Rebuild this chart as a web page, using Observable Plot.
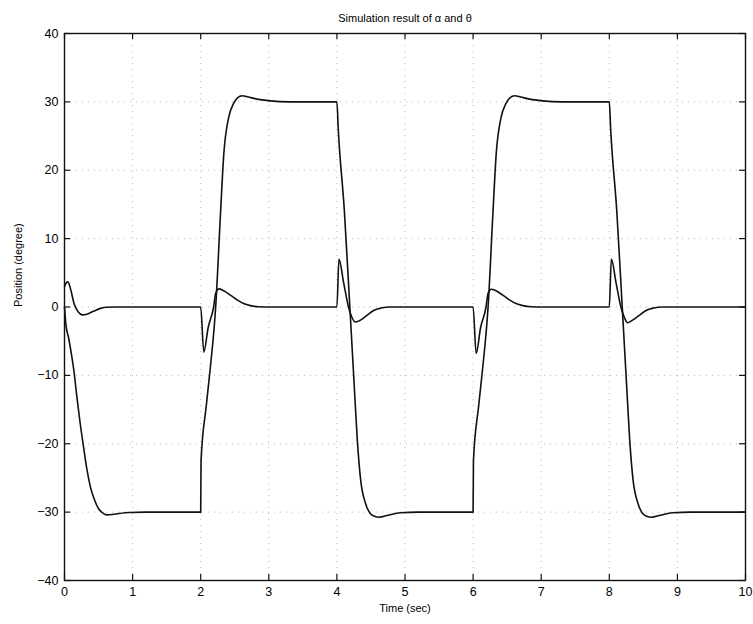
<!DOCTYPE html>
<html>
<head>
<meta charset="utf-8">
<script src="https://cdn.jsdelivr.net/npm/d3@7"></script>
<script src="https://cdn.jsdelivr.net/npm/@observablehq/plot@0.6"></script>
<style>
  html, body { margin: 0; padding: 0; background: #fff; }
  svg { display: block; }
</style>
</head>
<body>
<div id="chart"></div>
<script>
const titleText = "Simulation result of α and θ";
const xLabel = "Time (sec)";
const yLabel = "Position (degree)";
const xTicks = [0, 1, 2, 3, 4, 5, 6, 7, 8, 9, 10];
const yTicks = [-40, -30, -20, -10, 0, 10, 20, 30, 40];

// alpha (large response)
const alphaT = [
  0, 0.02, 0.06, 0.1, 0.14, 0.18, 0.23, 0.28, 0.33, 0.38, 0.44, 0.5, 0.56, 0.62, 0.7, 0.8, 0.95, 1.2, 2.0,
  2.005, 2.08, 2.14, 2.22, 2.29, 2.34, 2.41, 2.48, 2.54, 2.61, 2.7, 2.83, 3.02, 3.3, 4.0,
  4.02, 4.11, 4.19, 4.25, 4.30, 4.35, 4.42, 4.49, 4.55, 4.62, 4.75, 4.93, 5.2, 6.0,
  6.005, 6.08, 6.14, 6.22, 6.29, 6.34, 6.41, 6.48, 6.54, 6.61, 6.7, 6.83, 7.02, 7.3, 8.0,
  8.02, 8.11, 8.19, 8.25, 8.30, 8.35, 8.42, 8.49, 8.55, 8.62, 8.75, 8.93, 9.2, 10.0
];
const alphaV = [
  0, -2.5, -4.5, -6.8, -9.5, -13, -17, -20.5, -23.8, -26.3, -28.2, -29.5, -30.1, -30.4, -30.35, -30.2, -30.05, -30, -30,
  -22.5, -14.6, -9, 0, 13.5, 22.5, 27.7, 29.7, 30.6, 30.9, 30.7, 30.4, 30.15, 30, 30,
  26, 14, 0, -10.7, -19.5, -25.4, -28.7, -30.2, -30.6, -30.75, -30.45, -30.1, -30, -30,
  -22.5, -14.6, -9, 0, 13.5, 22.5, 27.7, 29.7, 30.6, 30.9, 30.7, 30.4, 30.15, 30, 30,
  26, 14, 0, -10.7, -19.5, -25.4, -28.7, -30.2, -30.6, -30.75, -30.45, -30.1, -30, -30
];

// theta (small response)
const thetaT = [
  0, 0.03, 0.05, 0.07, 0.1, 0.14, 0.2, 0.26, 0.33, 0.43, 0.53, 0.62, 0.75, 2.0,
  2.045, 2.11, 2.19, 2.22, 2.27, 2.33, 2.44, 2.54, 2.63, 2.73, 2.85, 3.0, 4.0,
  4.03, 4.1, 4.17, 4.22, 4.27, 4.33, 4.43, 4.54, 4.65, 4.78, 6.0,
  6.045, 6.11, 6.19, 6.22, 6.27, 6.33, 6.44, 6.54, 6.63, 6.73, 6.85, 7.0, 8.0,
  8.03, 8.1, 8.17, 8.22, 8.27, 8.33, 8.43, 8.54, 8.65, 8.78, 10.0
];
const thetaV = [
  3.0, 3.6, 3.7, 3.3, 2.2, 0.5, -0.7, -1.15, -1.05, -0.6, -0.2, -0.03, 0, 0,
  -6.6, -3, 0, 2.0, 2.65, 2.4, 1.7, 1.0, 0.5, 0.2, 0.03, 0, 0,
  7.0, 3.5, 0, -1.5, -2.2, -2.0, -1.3, -0.5, -0.15, 0, 0,
  -6.8, -3, 0, 2.0, 2.6, 2.4, 1.7, 1.0, 0.5, 0.2, 0.03, 0, 0,
  7.0, 3.5, 0, -1.5, -2.3, -2.0, -1.3, -0.5, -0.15, 0, 0
];

const alpha = alphaT.map((t, i) => ({t, v: alphaV[i]}));
const theta = thetaT.map((t, i) => ({t, v: thetaV[i]}));

const W = 753, H = 624;
const mL = 64, mR = 8, mT = 33, mB = 44;
const innerW = W - mL - mR, innerH = H - mT - mB;
const font = "'Liberation Sans', Arial, Helvetica, sans-serif";

const chart = Plot.plot({
  width: W,
  height: H,
  marginLeft: mL,
  marginRight: mR,
  marginTop: mT,
  marginBottom: mB,
  style: {fontFamily: font, fontSize: "12px", color: "#000", background: "#fff"},
  x: {domain: [0, 10]},
  y: {domain: [-40, 40]},
  marks: [
    Plot.gridX(xTicks, {stroke: "#aaa", strokeOpacity: 0.8, strokeDasharray: "1,5"}),
    Plot.gridY(yTicks, {stroke: "#aaa", strokeOpacity: 0.8, strokeDasharray: "1,5"}),
    Plot.line(alpha, {x: "t", y: "v", stroke: "#111", strokeWidth: 1.6, curve: "monotone-x"}),
    Plot.line(theta, {x: "t", y: "v", stroke: "#111", strokeWidth: 1.6, curve: "monotone-x"}),
    Plot.frame({stroke: "#111", strokeWidth: 1.4}),
    Plot.tickX(xTicks, {x: d => d, insetTop: innerH - 6, stroke: "#111", strokeWidth: 1.2}),
    Plot.tickX(xTicks, {x: d => d, insetBottom: innerH - 6, stroke: "#111", strokeWidth: 1.2}),
    Plot.tickY(yTicks, {y: d => d, insetRight: innerW - 6, stroke: "#111", strokeWidth: 1.2}),
    Plot.tickY(yTicks, {y: d => d, insetLeft: innerW - 6, stroke: "#111", strokeWidth: 1.2}),
    Plot.axisX({ticks: xTicks, tickSize: 0, tickPadding: 7, label: null, fontSize: 12.5, fill: "#000"}),
    Plot.axisY({ticks: yTicks, tickSize: 0, tickPadding: 6, label: null, fontSize: 12.5, fill: "#000"}),
    Plot.text([titleText], {frameAnchor: "top", dy: -19, text: d => d, fontSize: 11, fill: "#000"}),
    Plot.text([xLabel], {frameAnchor: "bottom", dy: 31, text: d => d, fontSize: 11, fill: "#000"}),
    Plot.text([yLabel], {frameAnchor: "left", dx: -46, rotate: -90, text: d => d, fontSize: 11, fill: "#000"})
  ]
});
document.getElementById("chart").appendChild(chart);
</script>
</body>
</html>
